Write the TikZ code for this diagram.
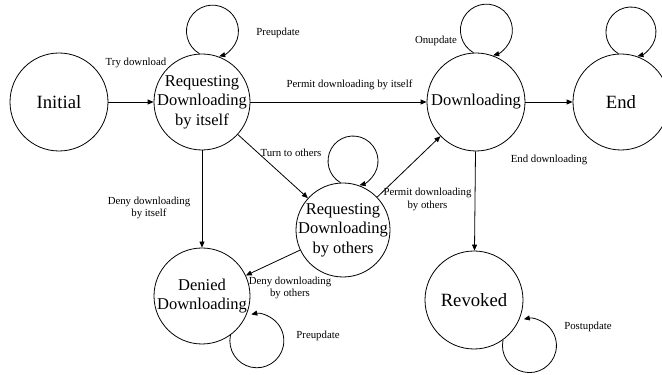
\documentclass[tikz,border=0pt]{standalone}
\usepackage{fontspec}
\setmainfont{Liberation Serif}
\usetikzlibrary{arrows.meta}
\begin{document}
\begin{tikzpicture}[x=1pt,y=1pt,
  state/.style={circle, draw, line width=0.8pt, inner sep=0pt},
  big/.style={font=\fontsize{18.7}{20}\selectfont, align=center},
  multi/.style={font=\fontsize{16.5}{19.5}\selectfont, align=center},
  lbl/.style={font=\fontsize{10.8}{12.5}\selectfont, align=center, inner sep=0pt},
  arr/.style={-{Triangle[length=6pt,width=5pt]}, line width=0.8pt},
]
\useasboundingbox (0,0) rectangle (662,375);
% states
\node[state, minimum size=98pt, label={[big]center:Initial}] (in) at (59,273) {};
\node[state, minimum size=96pt, label={[multi]center:Requesting\\Downloading\\by itself}] (rs) at (202,273) {};
\node[state, minimum size=98pt, label={[multi]center:Downloading}] (dl) at (476,273) {};
\node[state, minimum size=96pt, label={[big]center:End}] (end) at (621,273) {};
\node[state, minimum size=94pt, label={[multi]center:Requesting\\Downloading\\by others}] (ro) at (343,145) {};
\node[state, minimum size=96pt, label={[multi]center:Denied\\Downloading}] (dd) at (202,79) {};
\node[state, minimum size=98pt, label={[big]center:Revoked}] (rv) at (474,75) {};
% transitions
\draw[arr] (in) -- (rs);
\draw[arr] (rs) -- (dl);
\draw[arr] (dl) -- (end);
\draw[arr] (rs) -- (dd);
\draw[arr] (rs) -- (ro);
\draw[arr] (ro) -- (dl);
\draw[arr] (ro) -- (dd);
\draw[arr] (dl) -- (rv);
% self loops
\draw[arr] (rs.93) arc[start angle=240, end angle=-75, radius=26];
\draw[arr] (dl.93) arc[start angle=240, end angle=-75, radius=26];
\draw[arr] (end.93) arc[start angle=240, end angle=-75, radius=25];
\draw[arr] (ro.93) arc[start angle=240, end angle=-75, radius=25];
\draw[arr] (dd.-54) arc[start angle=168, end angle=462, radius=27];
\draw[arr] (rv.-54) arc[start angle=168, end angle=462, radius=27];
% labels
\node[lbl] (l1) at (136,312) {Try download};
\node[lbl] (l2) at (278,342) {Preupdate};
\node[lbl] (l3) at (349.5,290) {Permit downloading by itself};
\node[lbl] (l4) at (436,334) {Onupdate};
\node[lbl] (l5) at (291,222) {Turn to others};
\node[lbl] (l6) at (549,215) {End downloading};
\node[lbl] (l7) at (149,167) {Deny downloading\\by itself};
\node[lbl] (l8) at (427.5,175.5) {Permit downloading\\by others};
\node[lbl] (l9) at (290,87) {Deny downloading\\by others};
\node[lbl] (l10) at (318,39) {Preupdate};
\node[lbl] (l11) at (588,48) {Postupdate};
\end{tikzpicture}
\end{document}
